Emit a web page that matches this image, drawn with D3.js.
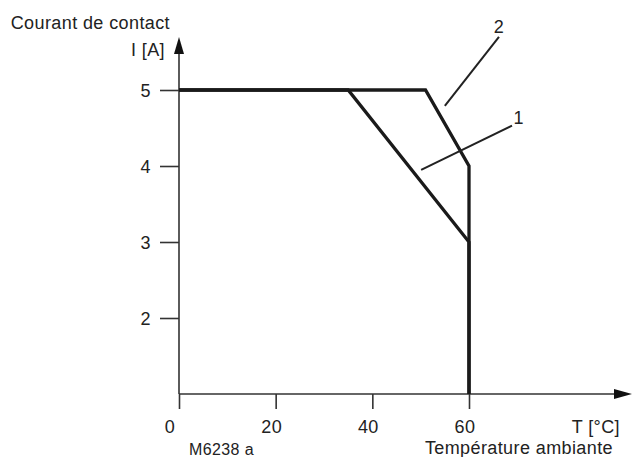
<!DOCTYPE html>
<html><head><meta charset="utf-8">
<script src="https://cdn.jsdelivr.net/npm/d3@7"></script>
<style>body{margin:0;background:#fff}svg{display:block}text{font-family:"Liberation Sans",Arial,sans-serif;fill:#222;letter-spacing:0.4px}</style>
</head><body><div id="c"></div>
<script>
const xTicks = [0, 20, 40, 60];
const yTicks = [2, 3, 4, 5];
const curve1 = [{t:0,i:5},{t:35,i:5},{t:60,i:3},{t:60,i:1}];
const curve2 = [{t:0,i:5},{t:51,i:5},{t:60,i:4},{t:60,i:1}];
const labels = [
  {name:"2", tx:66.2, ty:5.75, line:[{t:66.2,i:5.70},{t:55.0,i:4.79}]},
  {name:"1", tx:70.3, ty:4.55, line:[{t:68.9,i:4.53},{t:50.1,i:3.95}]}
];

const W=633,H=457;
const svg=d3.select("#c").append("svg").attr("width",W).attr("height",H);
const x=d3.scaleLinear().domain([0,60]).range([179,469]);
const y=d3.scaleLinear().domain([1,5]).range([394,90]);
const axisCol="#333";
const fs=18;

// x ticks
const gx=svg.append("g").attr("transform",`translate(0,${y(1)})`)
  .call(d3.axisBottom(x).tickValues(xTicks).tickSize(15).tickFormat(""));
gx.select(".domain").remove();
gx.selectAll("line").attr("stroke",axisCol).attr("stroke-width",1.6);
svg.selectAll(".xl").data(xTicks).join("text").attr("class","xl")
  .attr("x",d=>x(d)-(d===0?9:4)).attr("y",433).attr("text-anchor","middle")
  .attr("font-size",fs).text(d=>d);

// y ticks
const gy=svg.append("g").attr("transform",`translate(${x(0)},0)`)
  .call(d3.axisLeft(y).tickValues(yTicks).tickSize(19).tickFormat(""));
gy.select(".domain").remove();
gy.selectAll("line").attr("stroke",axisCol).attr("stroke-width",1.6);
svg.selectAll(".yl").data(yTicks).join("text").attr("class","yl")
  .attr("x",151).attr("y",d=>y(d)+6.5).attr("text-anchor","end")
  .attr("font-size",fs).text(d=>d);

// axis lines
svg.append("line").attr("x1",x(0)).attr("x2",x(0)).attr("y1",y(1)).attr("y2",50)
  .attr("stroke",axisCol).attr("stroke-width",1.6);
svg.append("line").attr("x1",x(0)).attr("x2",618).attr("y1",y(1)).attr("y2",y(1))
  .attr("stroke",axisCol).attr("stroke-width",1.6);
svg.append("path").attr("d",`M${x(0)},37 L${x(0)-5},54 L${x(0)+5},54 Z`).attr("fill","#111");
svg.append("path").attr("d",`M632,${y(1)} L614,${y(1)-5} L614,${y(1)+5} Z`).attr("fill","#111");

// curves
const line=d3.line().x(d=>x(d.t)).y(d=>y(d.i)).curve(d3.curveLinear);
[curve1,curve2].forEach(c=>svg.append("path").attr("d",line(c)).attr("fill","none")
  .attr("stroke","#1a1a1a").attr("stroke-width",3.3).attr("stroke-linejoin","miter"));

// annotation leaders
labels.forEach(l=>{
  svg.append("path").attr("d",line(l.line)).attr("stroke","#222").attr("stroke-width",2).attr("fill","none");
  svg.append("text").attr("x",x(l.tx)).attr("y",y(l.ty)).attr("text-anchor","middle").attr("font-size",fs).text(l.name);
});

// texts
svg.append("text").attr("x",170).attr("y",29).attr("text-anchor","end").attr("font-size",fs).text("Courant de contact");
svg.append("text").attr("x",165).attr("y",56).attr("text-anchor","end").attr("font-size",fs).text("I [A]");
svg.append("text").attr("x",620).attr("y",433).attr("text-anchor","end").attr("font-size",fs).text("T [°C]");
svg.append("text").attr("x",613).attr("y",454).attr("text-anchor","end").attr("font-size",fs).text("Température ambiante");
svg.append("text").attr("x",189).attr("y",455).attr("font-size",16).text("M6238  a");
</script></body></html>
